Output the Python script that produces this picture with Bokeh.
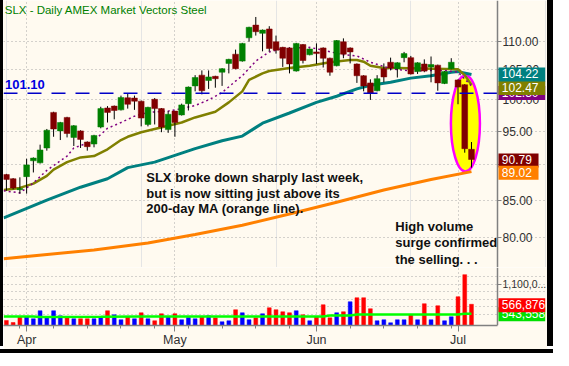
import numpy as np
import pandas as pd
from bokeh.plotting import figure
from bokeh.layouts import column, row
from bokeh.models import Range1d, FixedTicker, PrintfTickFormatter, Label, Grid, Spacer
from bokeh.embed import file_html
from bokeh.resources import INLINE

# ---------------- data ----------------
dates = pd.bdate_range("2008-03-27", "2008-07-03")
dates = dates[dates != pd.Timestamp("2008-05-26")]

opens = [88.6, 88.0, 86.45, 88.3, 90.6, 90.3, 92.5, 98.0, 95.1, 97.2,
         94.1, 95.1, 93.4, 93.1, 95.7, 98.7, 99.0, 98.4, 100.35, 100.3,
         99.8, 96.1, 100.1, 98.6, 95.3, 98.2, 97.6, 99.4, 102.3, 104.1,
         103.2, 103.9, 104.6, 106.1, 107.7, 106.5, 110.6, 112.9, 111.4, 112.2,
         109.9, 108.9, 108.8, 104.8, 109.4, 107.6, 108.1, 108.8, 107.0, 105.7,
         109.9, 108.8, 106.0, 104.0, 102.8, 101.5, 105.2, 106.3, 105.2, 107.1,
         107.1, 104.7, 106.0, 105.5, 105.8, 102.7, 105.2, 103.3, 102.5, 92.3]
highs = [88.7, 88.1, 88.2, 90.9, 91.1, 93.0, 95.4, 98.1, 96.5, 97.3,
         96.0, 95.2, 93.5, 94.5, 98.9, 99.0, 99.1, 100.7, 101.1, 100.7,
         99.9, 98.9, 100.3, 98.7, 98.2, 98.2, 99.4, 102.2, 104.1, 104.9,
         104.9, 104.0, 105.3, 106.9, 108.5, 109.7, 112.6, 114.4, 112.1, 112.7,
         111.0, 109.0, 108.9, 109.7, 109.5, 108.7, 109.6, 108.9, 107.1, 110.2,
         110.5, 108.9, 106.1, 104.1, 103.4, 104.1, 106.1, 107.1, 106.3, 108.1,
         107.4, 106.3, 106.8, 107.3, 105.9, 104.8, 107.0, 103.4, 102.6, 93.4]
lows = [86.3, 86.5, 85.9, 85.9, 88.9, 90.2, 92.1, 94.2, 93.7, 94.1,
        92.8, 92.5, 92.1, 92.6, 95.5, 96.4, 96.9, 98.3, 98.6, 98.4,
        95.8, 95.8, 96.1, 94.9, 94.8, 94.2, 97.5, 98.3, 101.4, 100.9,
        101.8, 102.0, 102.3, 104.4, 105.1, 106.4, 109.9, 111.0, 108.2, 108.2,
        107.8, 105.5, 104.4, 104.7, 106.1, 107.5, 106.0, 105.4, 104.0, 105.6,
        107.0, 106.1, 102.8, 101.4, 100.0, 101.4, 102.9, 104.9, 103.7, 106.3,
        104.2, 104.3, 104.6, 102.9, 101.5, 102.6, 105.1, 99.3, 91.8, 89.6]
closes = [87.9, 86.7, 86.6, 90.0, 91.0, 92.2, 95.2, 95.4, 96.4, 94.7,
          95.9, 93.8, 92.7, 94.4, 98.6, 98.0, 98.3, 100.4, 99.3, 99.8,
          97.1, 98.8, 98.6, 95.7, 97.7, 96.4, 99.2, 102.1, 103.7, 101.5,
          103.8, 103.5, 105.2, 106.8, 105.2, 109.6, 112.5, 111.7, 112.0, 108.7,
          108.4, 107.0, 106.0, 109.6, 106.6, 108.6, 107.8, 107.0, 104.6, 110.1,
          107.7, 108.1, 104.0, 102.3, 101.1, 103.5, 103.8, 105.3, 106.2, 107.8,
          104.3, 106.2, 104.8, 105.9, 102.8, 104.7, 106.3, 102.1, 92.4, 90.79]
volumes = [134, 80, 241, 241, 180, 394, 206, 394, 260, 241,
           180, 180, 180, 180, 225, 394, 287, 153, 241, 180,
           340, 180, 126, 314, 241, 314, 153, 214, 180, 241,
           260, 206, 99, 126, 421, 340, 153, 206, 314, 474,
           421, 367, 340, 394, 287, 126, 241, 555, 206, 340,
           367, 635, 742, 742, 448, 126, 153, 72, 153, 153,
           287, 153, 582, 153, 528, 126, 233, 769, 1359, 566.876]  # thousands

# moving averages read at sampled bars (bar index, price)
ma_fast_idx = [-0.4, 2, 4, 6, 9, 10, 13, 15, 17, 19, 21, 24, 26, 28, 30, 32, 34, 35,
               37, 39, 41, 45, 47, 50, 52, 54, 57, 60, 63, 65, 67, 69]
ma_fast_val = [86.3, 86.0, 87.4, 89.2, 91.3, 92.5, 93.6, 95.5, 96.4, 97.4, 98.0, 98.2,
               98.6, 99.1, 100.0, 101.2, 103.1, 104.0, 106.5, 108.1, 108.7, 108.9,
               108.4, 107.6, 107.4, 106.3, 105.2, 104.8, 104.9, 104.9, 104.6, 102.3]
ma20_idx = [-0.4, 2, 4, 6, 7, 9, 11, 13, 15, 17, 18, 20, 22, 24, 26, 28, 31, 33, 35,
            36, 38, 39, 42, 45, 48, 51, 52, 53, 54, 56, 58, 67, 68, 69]
ma20_val = [86.4, 86.7, 87.3, 88.4, 89.3, 90.4, 91.1, 91.3, 92.3, 93.7, 94.2, 94.9,
            95.4, 95.9, 96.4, 97.2, 98.1, 99.6, 101.4, 103.3, 104.4, 104.8, 105.3,
            105.7, 106.3, 106.7, 106.7, 106.4, 105.7, 105.3, 105.3, 105.1, 104.1, 102.47]
ma50_idx = [-0.4, 6, 11, 15, 18, 22, 28, 32, 35, 38, 42, 46, 49, 52, 54, 57, 60,
            63, 66, 67, 69]
ma50_val = [82.6, 85.0, 86.8, 88.0, 89.6, 90.4, 92.4, 93.6, 94.3, 96.3, 97.9, 99.6,
            100.6, 101.8, 102.4, 102.9, 103.6, 104.0, 104.6, 104.7, 104.22]
ma200_idx = [-0.4, 13, 21, 28, 35, 42, 49, 56, 63, 69]
ma200_val = [77.3, 78.4, 79.3, 80.4, 81.6, 83.1, 84.7, 86.4, 87.9, 89.02]
vma_idx = [-0.4, 4, 5, 14, 20, 47, 48, 51, 52, 67, 68, 69]
vma_val = [241, 241, 228, 232, 241, 241, 268, 268, 295, 295, 314, 314]  # thousands

level_line = 101.10
price_ticks = [80, 85, 90, 95, 100, 105, 110]
vol_grid = [300000, 500000, 700000, 900000, 1100000, 1300000]
vol_ticks = [1100000]
vol_avg_label = 543558

# ---------------- derived ----------------
n = len(opens)
idx = np.arange(n)
o = np.array(opens); c = np.array(closes); h = np.array(highs); l = np.array(lows)
vol = np.array(volumes) * 1000.0
up = c >= o
body_col = np.where(up, "#008000", "#800000")
vol_up = np.concatenate([[False], c[1:] > c[:-1]])
vol_col = np.where(vol_up, "#0000FF", "#FF0000")

months = [d.month for d in dates]
month_idx = [i for i in range(1, n) if months[i] != months[i - 1]]
weeks = [d.isocalendar()[1] for d in dates]
week_idx = [i for i in range(1, n) if weeks[i] != weeks[i - 1] and i not in month_idx]
month_names = {i: dates[i].strftime("%b") for i in month_idx}

CREAM = "#FFFAF0"
FONT = "Liberation Sans"
GRID = "#A8A8A8"
AX = "#808080"
FRAME_W = 544
X0 = -0.43
AXIS_X = 72.86                        # where the price scale sits
PX_PER_BAR = 494 / (AXIS_X - X0)
xr = Range1d(X0, X0 + FRAME_W / PX_PER_BAR)


def style_right_axis(ax, ticks, size):
    ax.ticker = FixedTicker(ticks=ticks)
    ax.fixed_location = AXIS_X
    ax.axis_line_color = AX
    ax.axis_line_width = 1.5
    ax.major_tick_line_color = AX
    ax.major_tick_in = 0
    ax.major_tick_out = 4
    ax.minor_tick_line_color = None
    ax.major_label_standoff = 1
    ax.major_label_text_font = FONT
    ax.major_label_text_font_size = size
    ax.major_label_text_color = "#303030"


# ---------------- price panel ----------------
p = figure(frame_width=FRAME_W, frame_height=267, x_range=xr,
           y_range=Range1d(76.2, 117.5), y_axis_type="log",
           y_axis_location="right", x_axis_location=None,
           output_backend="svg", toolbar_location=None,
           min_border_left=0, min_border_right=0, min_border_top=0, min_border_bottom=0,
           background_fill_color=CREAM, border_fill_color=CREAM, outline_line_color=None)

style_right_axis(p.yaxis[0], price_ticks, "12px")
p.yaxis[0].formatter = PrintfTickFormatter(format="%.2f")
p.ygrid.ticker = FixedTicker(ticks=price_ticks)
p.ygrid.bounds = (X0, AXIS_X)
p.ygrid.grid_line_color = GRID
p.ygrid.grid_line_dash = "1 3"
p.add_layout(Grid(dimension=0, ticker=FixedTicker(ticks=month_idx),
                  grid_line_color=GRID, grid_line_dash="1 3"))

# highlight ellipse around the breakdown
cx = n - 2 + 0.1
cy = float(np.sqrt(h[-3:].max() * l[-3:].min()))
p.ellipse(x=[cx], y=[cy], width=29, height=96, width_units="screen", height_units="screen",
          fill_color="#FFFF00", line_color="#FF00FF", line_width=2.5)

# moving averages
p.line(ma200_idx, ma200_val, line_color="#FF8000", line_width=3)
p.line(ma50_idx, ma50_val, line_color="#008080", line_width=3)
p.line(ma20_idx, ma20_val, line_color="#808000", line_width=2.5)
p.line(ma_fast_idx, ma_fast_val, line_color="#800080", line_width=1.5, line_dash="2 3")

# candles
p.segment(x0=idx, y0=l, x1=idx, y1=h, line_color="black", line_width=1)
p.vbar(x=idx, width=0.86, bottom=np.minimum(o, c), top=np.maximum(o, c),
       fill_color=body_col, line_color=body_col, line_width=0.5)

# horizontal level line, ending at the price scale
p.line([X0, AXIS_X], [level_line, level_line], line_color="#0000C8",
       line_width=1.5, line_dash="14 10")
p.add_layout(Label(x=-0.2, y=level_line, y_offset=4, text="%.2f" % level_line,
                   text_color="#0000E0", text_font=FONT, text_font_size="13px",
                   text_font_style="bold", text_baseline="bottom"))

p.add_layout(Label(x=-0.25, y=117.5, y_offset=-3, text="SLX - Daily  AMEX  Market Vectors Steel",
                   text_color="#008000", text_font=FONT, text_font_size="11.5px",
                   text_baseline="top"))

note1 = ["SLX broke down sharply last week,", "but is now sitting just above its",
         "200-day MA (orange line)."]
note1_y = [88.18, 85.9, 83.8]
for t, yy in zip(note1, note1_y):
    p.add_layout(Label(x=20.75, y=yy, text=t, text_font=FONT, text_font_size="13px",
                       text_font_style="bold", text_color="#101010", text_baseline="middle"))
note2 = ["High volume", "surge confirmed", "the selling. . ."]
note2_y = [81.4, 79.3, 77.2]
for t, yy in zip(note2, note2_y):
    p.add_layout(Label(x=57.7, y=yy, text=t, text_font=FONT, text_font_size="13px",
                       text_font_style="bold", text_color="#101010", text_baseline="middle"))

NB = "\u00a0"


def tag(fig, yv, txt, col, yoff=0, tail=2):
    fig.add_layout(Label(x=AXIS_X, x_offset=1, y=yv, y_offset=yoff,
                         text=NB + txt + NB * tail,
                         text_color="white", text_font=FONT, text_font_size="12px",
                         text_baseline="middle", background_fill_color=col,
                         background_fill_alpha=1.0))


# purple tag is almost fully covered by the olive one, as in the picture
tag(p, ma_fast_val[-1], "%.2f" % ma_fast_val[-1], "#800080", -7)
tag(p, ma20_val[-1], "%.2f" % ma20_val[-1], "#808000", -3)
tag(p, ma50_val[-1], "%.2f" % ma50_val[-1], "#008080", 0)
tag(p, closes[-1], "%.2f" % closes[-1], "#800000", -1)
tag(p, ma200_val[-1], "%.2f" % ma200_val[-1], "#FF8000", -1)

# ---------------- volume panel ----------------
v = figure(frame_width=FRAME_W, frame_height=58, x_range=xr, y_range=Range1d(0, 1.55e6),
           y_axis_location="right", x_axis_location="below",
           output_backend="svg", toolbar_location=None,
           min_border_left=0, min_border_right=0, min_border_top=0, min_border_bottom=21,
           background_fill_color=CREAM, border_fill_color=CREAM, outline_line_color=None)
style_right_axis(v.yaxis[0], vol_ticks, "10.5px")
v.yaxis[0].major_label_overrides = {1100000: "1,100,0..."}
v.ygrid.ticker = FixedTicker(ticks=vol_grid)
v.ygrid.bounds = (X0, AXIS_X)
v.ygrid.grid_line_color = GRID
v.ygrid.grid_line_dash = "1 3"

vx = v.xaxis[0]
vx.ticker = FixedTicker(ticks=month_idx, minor_ticks=week_idx)
vx.major_label_overrides = month_names
vx.bounds = (X0, AXIS_X)
vx.axis_line_color = AX
vx.axis_line_width = 1.5
vx.major_tick_line_color = AX
vx.minor_tick_line_color = AX
vx.major_tick_in = 0
vx.major_tick_out = 6
vx.minor_tick_in = 0
vx.minor_tick_out = 3
vx.major_label_standoff = 1
vx.major_label_text_font = FONT
vx.major_label_text_font_size = "12.5px"
vx.major_label_text_color = "#303030"
v.xgrid.ticker = FixedTicker(ticks=month_idx)
v.xgrid.grid_line_color = GRID
v.xgrid.grid_line_dash = "1 3"

v.vbar(x=idx, width=0.57, bottom=0, top=vol, fill_color=vol_col, line_color=vol_col,
       line_width=0.5)
v.line(vma_idx, np.array(vma_val) * 1000.0, line_color="#00FF00", line_width=2.5)

tag(v, vol_avg_label, "{:,}".format(vol_avg_label), "#00E000", -9, tail=0)
tag(v, vol[-1], "{:,.0f}".format(vol[-1]), "#FF0000", -1, tail=0)

BLACK = {"background-color": "black"}
main = column(p, v)
top = row(Spacer(width=3, height=346, styles=BLACK), main,
          Spacer(width=6, height=346, styles=BLACK))
layout = column(top, Spacer(width=553, height=4, styles=BLACK))

open("out.html", "w").write(file_html(layout, INLINE))
